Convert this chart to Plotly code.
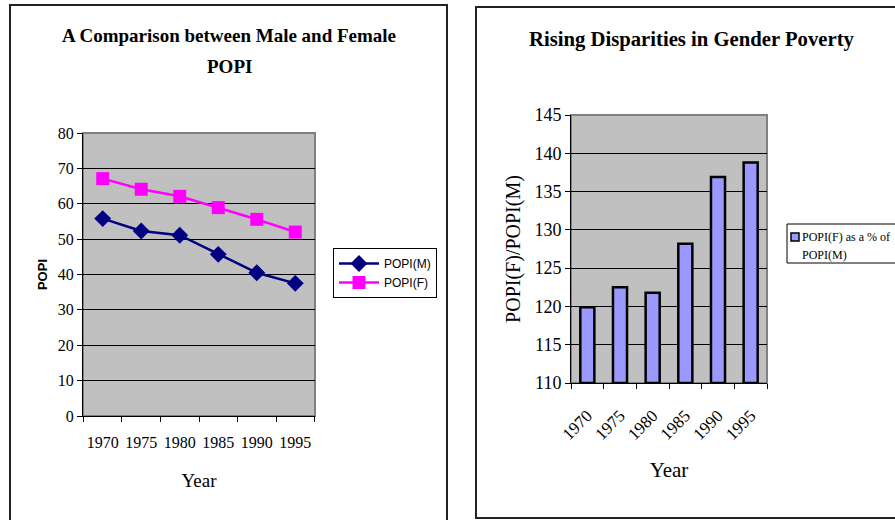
import plotly.graph_objects as go

years = ["1970", "1975", "1980", "1985", "1990", "1995"]
popi_m = [55.8, 52.3, 51.1, 45.7, 40.5, 37.5]
popi_f = [67.1, 64.1, 62.1, 58.9, 55.6, 52.0]
ratio = [119.9, 122.5, 121.8, 128.2, 136.9, 138.8]
ratio_base = 110

W, H = 895, 520
def px(x):
    return x / W
def py(y):
    return (H - y) / H

SERIF = "Liberation Serif, Times New Roman, serif"
SANS = "Liberation Sans, Arial, sans-serif"

fig = go.Figure()
fig.add_trace(go.Scatter(x=years, y=popi_m, name="POPI(M)", mode="lines+markers",
                         line=dict(color="#000080", width=2.5),
                         marker=dict(symbol="diamond", size=13, color="#000080"),
                         xaxis="x", yaxis="y", legend="legend"))
fig.add_trace(go.Scatter(x=years, y=popi_f, name="POPI(F)", mode="lines+markers",
                         line=dict(color="#FF00FF", width=2.5),
                         marker=dict(symbol="square", size=13, color="#FF00FF"),
                         xaxis="x", yaxis="y", legend="legend"))
fig.add_trace(go.Bar(x=years, y=[v - ratio_base for v in ratio], base=ratio_base,
                     name="POPI(F) as a % of POPI(M)", showlegend=False,
                     marker=dict(color="#9999FF", line=dict(color="black", width=2.5)),
                     xaxis="x2", yaxis="y2"))

axis_common = dict(showline=True, linecolor="black", linewidth=1, ticks="outside",
                   ticklen=5, tickcolor="black", zeroline=False)

fig.update_layout(
    width=W, height=H, margin=dict(l=0, r=0, t=0, b=0, autoexpand=False),
    paper_bgcolor="white", plot_bgcolor="#C0C0C0",
    showlegend=True, bargap=0.57,
    xaxis=dict(domain=[px(83), px(315)], anchor="y", type="category",
               tickson="boundaries", showgrid=False, tickangle=0, ticklabelstandoff=12,
               tickfont=dict(family=SERIF, size=16, color="black"),
               title=dict(text="Year", font=dict(family=SERIF, size=19, color="black"), standoff=23),
               **axis_common),
    yaxis=dict(domain=[py(416), py(133)], anchor="x", range=[0, 80], dtick=10,
               showgrid=True, gridcolor="black", gridwidth=1,
               tickfont=dict(family=SERIF, size=16, color="black"),
               title=dict(text="<b>POPI</b>", font=dict(family=SANS, size=13, color="black"), standoff=7),
               **axis_common),
    xaxis2=dict(domain=[px(571), px(767)], anchor="y2", type="category",
                tickson="boundaries", showgrid=False, tickangle=-45, ticklabelstandoff=15,
                tickfont=dict(family=SERIF, size=17, color="black"),
                title=dict(text="Year", font=dict(family=SERIF, size=21, color="black"), standoff=19),
                **axis_common),
    yaxis2=dict(domain=[py(383), py(115)], anchor="x2", range=[110, 145], dtick=5,
                showgrid=True, gridcolor="black", gridwidth=1,
                tickfont=dict(family=SERIF, size=18, color="black"),
                title=dict(text="POPI(F)/POPI(M)", font=dict(family=SERIF, size=20, color="black"), standoff=8),
                **axis_common),
    legend=dict(x=px(333), y=py(248), xanchor="left", yanchor="top",
                bordercolor="black", borderwidth=1, bgcolor="white",
                font=dict(family=SANS, size=12, color="black"),
                itemwidth=40, tracegroupgap=0),
)

shapes = [
    dict(type="rect", xref="paper", yref="paper", x0=px(10), x1=px(447), y0=py(5), y1=py(530),
         line=dict(color="#222222", width=2), fillcolor="rgba(0,0,0,0)", layer="below"),
    dict(type="rect", xref="paper", yref="paper", x0=px(476), x1=px(905), y0=py(7), y1=py(518),
         line=dict(color="#222222", width=2), fillcolor="rgba(0,0,0,0)", layer="below"),
    dict(type="rect", xref="x domain", yref="y domain", x0=0, x1=1, y0=0, y1=1,
         line=dict(color="#808080", width=2), layer="below"),
    dict(type="rect", xref="x2 domain", yref="y2 domain", x0=0, x1=1, y0=0, y1=1,
         line=dict(color="#808080", width=2), layer="below"),
    # legend box for the bar series
    dict(type="rect", xref="paper", yref="paper", x0=px(787), x1=px(905), y0=py(224), y1=py(263),
         line=dict(color="black", width=1), fillcolor="white"),
    dict(type="rect", xref="paper", yref="paper", x0=px(791), x1=px(799), y0=py(233), y1=py(241),
         line=dict(color="black", width=1.5), fillcolor="#9999FF"),
]
fig.update_layout(shapes=shapes)

fig.add_annotation(text="POPI(F) as a % of", xref="paper", yref="paper",
                   x=px(800), y=py(237), xanchor="left", yanchor="middle", showarrow=False,
                   font=dict(family=SERIF, size=12, color="black"))
fig.add_annotation(text="POPI(M)", xref="paper", yref="paper",
                   x=px(800), y=py(255), xanchor="left", yanchor="middle", showarrow=False,
                   font=dict(family=SERIF, size=12, color="black"))

fig.add_annotation(text="<b>A Comparison between Male and Female</b>",
                   xref="paper", yref="paper", x=px(229), y=py(36), showarrow=False,
                   xanchor="center", yanchor="middle",
                   font=dict(family=SERIF, size=19, color="black"))
fig.add_annotation(text="<b>POPI</b>",
                   xref="paper", yref="paper", x=px(229), y=py(66), showarrow=False,
                   xanchor="center", yanchor="middle",
                   font=dict(family=SERIF, size=19, color="black"))
fig.add_annotation(text="<b>Rising Disparities in Gender Poverty</b>",
                   xref="paper", yref="paper", x=px(692), y=py(40), showarrow=False,
                   xanchor="center", yanchor="middle",
                   font=dict(family=SERIF, size=20.7, color="black"))

fig.write_html("out.html", config={"displayModeBar": False},
               post_script="document.body.style.margin='0';")
